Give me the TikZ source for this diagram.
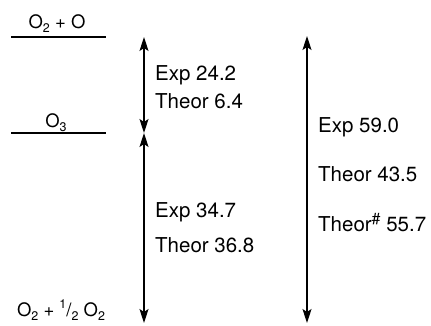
\documentclass[tikz,border=0pt]{standalone}
\usepackage{fontspec}
\setmainfont{TeX Gyre Heros}
\usetikzlibrary{arrows.meta}
\newcommand\mysub[1]{\raisebox{-0.22em}{\fontsize{12.5}{12.5}\selectfont #1}}
\newcommand\mysup[1]{\raisebox{0.42em}{\fontsize{12.5}{12.5}\selectfont #1}}
\newcommand\myhash{\raisebox{0.3em}{\fontsize{16}{16}\selectfont\#}}
\begin{document}
\begin{tikzpicture}[x=1pt,y=-1pt,
  lvl/.style={line width=1.5pt},
  lab/.style={font=\fontsize{18.5}{18.5}\selectfont, anchor=base, inner sep=0pt},
  txt/.style={font=\fontsize{20.5}{20.5}\selectfont, anchor=base west, inner sep=0pt},
  gap/.style={line width=1.3pt, {Stealth[length=14pt,width=9pt,inset=3pt]}-{Stealth[length=14pt,width=9pt,inset=3pt]}}]
\useasboundingbox (0,0) rectangle (431,325);
% level lines
\coordinate (l1a) at (11,37);  \coordinate (l1b) at (106,37);
\coordinate (l2a) at (11,133); \coordinate (l2b) at (106,133);
\draw[lvl] (l1a) -- (l1b);
\draw[lvl] (l2a) -- (l2b);
% level labels
\node[lab] (top) at (57,28) {O\mysub{2} + O};
\node[lab] (mid) at (56,127) {O\mysub{3}};
\node[lab] (bot) at (61,316) {O\mysub{2} + \mysup{1}/\mysub{2} O\mysub{2}};
% arrow end points
\coordinate (a1t) at (144,37);
\coordinate (a1b) at (144,133);
\coordinate (a2b) at (144,323);
\coordinate (a3t) at (307,36);
\coordinate (a3b) at (307,323);
\draw[gap] (a1t) -- (a1b);
\draw[gap] (a1b) -- (a2b);
\draw[gap] (a3t) -- (a3b);
% texts
\node[txt] (e1) at (155,80) {Exp 24.2};
\node[txt] (t1) at (155,108) {Theor 6.4};
\node[txt] (e2) at (155,217) {Exp 34.7};
\node[txt] (t2) at (155,252) {Theor 36.8};
\node[txt] (e3) at (318,132) {Exp 59.0};
\node[txt] (t3) at (318,181) {Theor 43.5};
\node[txt] (t4) at (318,231) {Theor\myhash{} 55.7};
\end{tikzpicture}
\end{document}
